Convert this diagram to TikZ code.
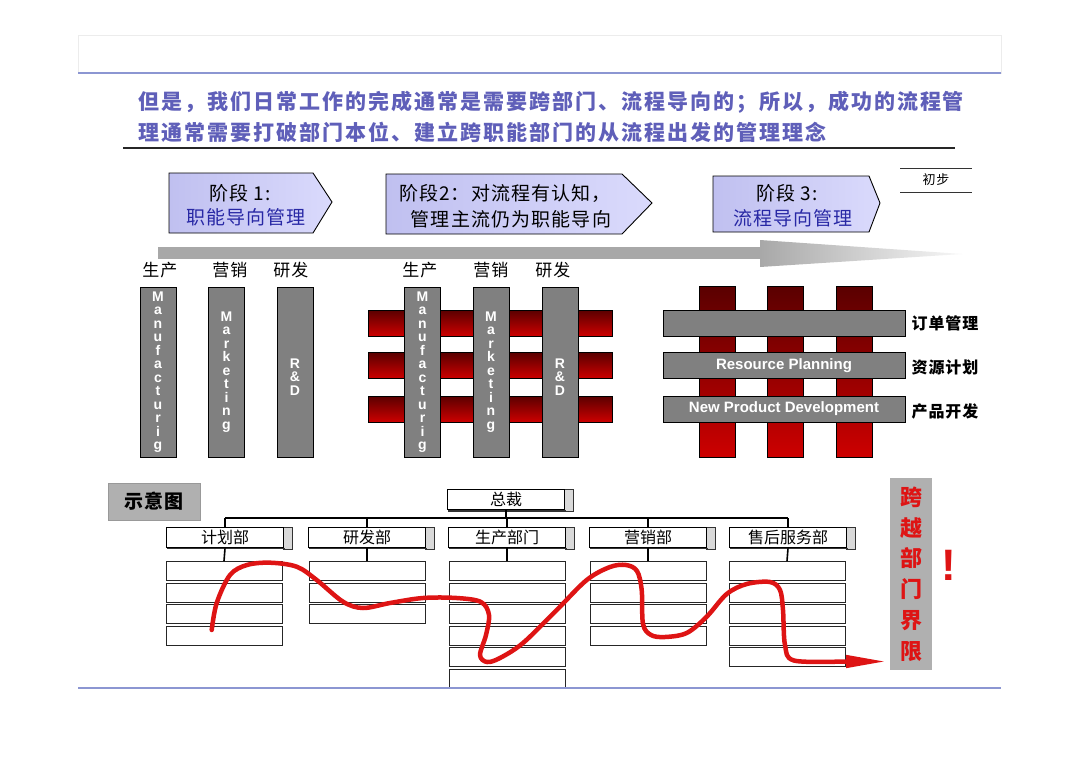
\documentclass[tikz,border=0pt]{standalone}
\usepackage{fontspec}
\setmainfont{Noto Sans CJK SC}
\newfontfamily\hdrfont{Noto Sans CJK SC}[LetterSpace=9.5]
\newfontfamily\spfont{Noto Sans CJK SC}[LetterSpace=6]
\newfontfamily\arialf{Liberation Sans}
\usetikzlibrary{arrows.meta}
\definecolor{hdrblue}{RGB}{95,95,185}
\definecolor{stgblue}{RGB}{40,40,165}
\definecolor{stgfillA}{RGB}{192,192,240}
\definecolor{stgfillB}{RGB}{218,218,252}
\definecolor{lineblue}{RGB}{140,150,210}
\definecolor{bargray}{RGB}{128,128,128}
\definecolor{darkred}{RGB}{90,0,0}
\definecolor{brightred}{RGB}{205,0,0}
\definecolor{arrgray}{RGB}{168,168,168}
\definecolor{boxgray}{RGB}{176,176,176}
\definecolor{flowred}{RGB}{222,20,20}
\newcommand\orgbox[4]{%
  \filldraw[fill=gray!30, draw=black!80, line width=0.6] (#2+58,#3-10) rectangle (#2+67,#3+12);
  \node[orgnode] (#1) at (#2,#3) {#4};
  \draw[line width=1.4, black!80] ([xshift=1pt,yshift=-1pt]#1.south west) -- ([xshift=1pt,yshift=-1pt]#1.south east);
}
\begin{document}
\begin{tikzpicture}[x=1pt,y=-1pt,
  hdr/.style={anchor=west, inner sep=0, text=hdrblue, font={\hdrfont\bfseries\fontsize{21}{24}\selectfont}},
  stagebox/.style={draw=black, line width=0.9, left color=stgfillA, right color=stgfillB},
  stgtxt/.style={inner sep=0, font={\spfont\fontsize{19}{22}\selectfont}},
  lbl/.style={inner sep=0, font={\spfont\fontsize{17}{20}\selectfont}},
  grayv/.style={draw=black, line width=0.7, fill=bargray, minimum width=36, minimum height=170, inner sep=0, text=white, align=center, font={\arialf\bfseries\fontsize{14}{13.5}\selectfont}},
  bartxt/.style={inner sep=0, text=white, align=center, font={\arialf\bfseries\fontsize{14}{13.5}\selectfont}},
  grayh/.style={draw=black, line width=0.7, fill=bargray, minimum width=242, minimum height=26, inner sep=0, text=white, font={\arialf\bfseries\fontsize{15}{17}\selectfont}},
  redh/.style={draw=black, line width=0.6, top color=darkred, bottom color=brightred, minimum width=244, minimum height=26, inner sep=0},
  redv/.style={draw=black, line width=0.6, top color=darkred, bottom color=brightred, minimum width=36, minimum height=171, inner sep=0},
  orgnode/.style={draw=black, line width=0.8, fill=white, minimum width=117, minimum height=20, inner sep=0, font={\fontsize{16}{16}\selectfont}},
  subbox/.style={draw=black!85, line width=0.8, fill=white, minimum width=116, minimum height=19, inner sep=0},
  orgline/.style={line width=1.6, black},
  flow/.style={line width=4.5, flowred, line cap=round, line join=round}
]
\useasboundingbox (0,0) rectangle (1080,763);
\fill[white] (0,0) rectangle (1080,763);

% top frame
\draw[gray!15, line width=0.8] (78,35) rectangle (1001,73);
\draw[lineblue, line width=1.3] (78,73) -- (1001,73);

% header
\node[hdr] (h1) at (138,102) {但是，我们日常工作的完成通常是需要跨部门、流程导向的；所以，成功的流程管};
\node[hdr] (h2) at (138,132) {理通常需要打破部门本位、建立跨职能部门的从流程出发的管理理念};
\draw[black!85, line width=1.6] (123,148) -- (955,148);

% stage boxes
\draw[stagebox] (169,173) -- (313,173) -- (332,202) -- (313,233) -- (169,233) -- cycle;
\node[stgtxt] (s1a) at (240,193) {阶段 1:};
\node[stgtxt, text=stgblue] (s1b) at (246,217) {职能导向管理};
\draw[stagebox] (386,174) -- (622,174) -- (652,203) -- (622,234) -- (386,234) -- cycle;
\node[stgtxt] (s2a) at (505,193) {阶段2：对流程有认知，};
\node[stgtxt] (s2b) at (511,219) {管理主流仍为职能导向};
\draw[stagebox] (713,176) -- (869,176) -- (880,203) -- (869,232) -- (713,232) -- cycle;
\node[stgtxt] (s3a) at (787,193) {阶段 3:};
\node[stgtxt, text=stgblue] (s3b) at (793,218) {流程导向管理};

% 初步
\draw[black!80, line width=0.8] (900,168) -- (972,168);
\draw[black!80, line width=0.8] (900,192) -- (972,192);
\node[inner sep=0, font={\spfont\fontsize{13}{15}\selectfont}] (cb) at (936,180) {初步};

% big gray arrow
\fill[arrgray] (158,247) rectangle (761,259);
\shade[left color=arrgray, right color=gray!6] (760,240) -- (962,254) -- (760,267) -- cycle;

% labels
\node[lbl] (l1) at (160,270) {生产};
\node[lbl] (l2) at (230,270) {营销};
\node[lbl] (l3) at (291,270) {研发};
\node[lbl] (l4) at (420,270) {生产};
\node[lbl] (l5) at (491,270) {营销};
\node[lbl] (l6) at (553,270) {研发};

% group 1
\node[grayv] (g1a) at (158,372) {M\\a\\n\\u\\f\\a\\c\\t\\u\\r\\i\\g};
\node[grayv] (g1b) at (226.5,372) {M\\a\\r\\k\\e\\t\\i\\n\\g};
\node[grayv] (g1c) at (295,372) {};
\node[bartxt] (g1ct) at (295,377) {R\\\&\\D};

% group 2
\node[redh] (r2a) at (490,323) {};
\node[redh] (r2b) at (490,365.5) {};
\node[redh] (r2c) at (490,409) {};
\node[grayv] (g2a) at (422.5,372) {M\\a\\n\\u\\f\\a\\c\\t\\u\\r\\i\\g};
\node[grayv] (g2b) at (491,372) {M\\a\\r\\k\\e\\t\\i\\n\\g};
\node[grayv] (g2c) at (560,372) {};
\node[bartxt] (g2ct) at (560,377) {R\\\&\\D};

% group 3
\node[redv] (r3a) at (717,371.5) {};
\node[redv] (r3b) at (785,371.5) {};
\node[redv] (r3c) at (854,371.5) {};
\node[grayh] (g3a) at (784,323) {};
\node[grayh] (g3b) at (784,365.5) {Resource Planning};
\node[grayh] (g3c) at (784,409) {New Product Development};
\node[lbl, font={\spfont\bfseries\fontsize{16}{18}\selectfont}] (t3a) at (945,323) {订单管理};
\node[lbl, font={\spfont\bfseries\fontsize{16}{18}\selectfont}] (t3b) at (945,367) {资源计划};
\node[lbl, font={\spfont\bfseries\fontsize{16}{18}\selectfont}] (t3c) at (945,411) {产品开发};

% 示意图
\node[draw=gray!80, fill=boxgray, minimum width=92, minimum height=37, inner sep=0, font={\spfont\bfseries\fontsize{19}{21}\selectfont}] (syt) at (154,501.5) {示意图};

% org chart
\orgbox{zc}{506}{499.5}{总裁}
\orgbox{jh}{225}{537}{计划部}
\orgbox{yf}{367}{537}{研发部}
\orgbox{sc}{507}{537}{生产部门}
\orgbox{yx}{648}{537}{营销部}
\orgbox{sh}{788}{537}{售后服务部}
\foreach \i/\y in {1/571,2/592.5,3/614,4/635.5} \node[subbox] (jh\i) at (224,\y) {};
\foreach \i/\y in {1/571,2/592.5,3/614} \node[subbox] (yf\i) at (367,\y) {};
\foreach \i/\y in {1/571,2/592.5,3/614,4/635.5,5/657,6/678.5} \node[subbox] (sc\i) at (507,\y) {};
\foreach \i/\y in {1/571,2/592.5,3/614,4/635.5} \node[subbox] (yx\i) at (648,\y) {};
\foreach \i/\y in {1/571,2/592.5,3/614,4/635.5,5/657} \node[subbox] (sh\i) at (787,\y) {};
\coordinate (bus) at (506,518);
\draw[orgline] (zc.south) -- (zc.south |- bus);
\draw[orgline] (jh.north |- bus) -- (sh.north |- bus);
\foreach \d in {jh,yf,sc,yx,sh} {
  \draw[orgline] (\d.north |- bus) -- (\d.north);
  \draw[orgline] ([yshift=-1pt]\d.south) -- (\d1.north);
}

% red flow line
\coordinate (rs) at (211.7,630);
\coordinate (re) at (886,661.5);
\draw[flow, -{Triangle[length=40pt,width=12pt]}] plot[smooth, tension=0.55] coordinates {
 (rs) (216.7,603) (230,575) (247,565) (270,562.7) (296.7,566.7) (316.7,580) (343,601.7) (363,608)
 (390,603) (423,598) (456.7,598) (481,602) (489,615) (486,635) (480,655) (487,662) (500,658)
 (523,643) (556.7,610) (586.7,580) (610,567) (626,565) (637,571) (641.7,590) (643,624) (651,635)
 (665,637) (686.7,633) (706.7,616.7) (726.7,594) (746.7,584) (770,582) (780,590) (783,610)
 (785,645) (794,660.5) (843,661.5)} -- (re);

% boundary box
\node[fill=boxgray, minimum width=42, minimum height=192, inner sep=0, text=flowred, align=center, font={\bfseries\fontsize{22}{30.8}\selectfont}] (kb) at (911,574) {跨\\越\\部\\门\\界\\限};
\node[inner sep=0, text=flowred, font={\arialf\bfseries\fontsize{44}{46}\selectfont}] (ex) at (949,565) {!};

% bottom line
\draw[lineblue, line width=1.3] (78,688) -- (1001,688);
\end{tikzpicture}
\end{document}
